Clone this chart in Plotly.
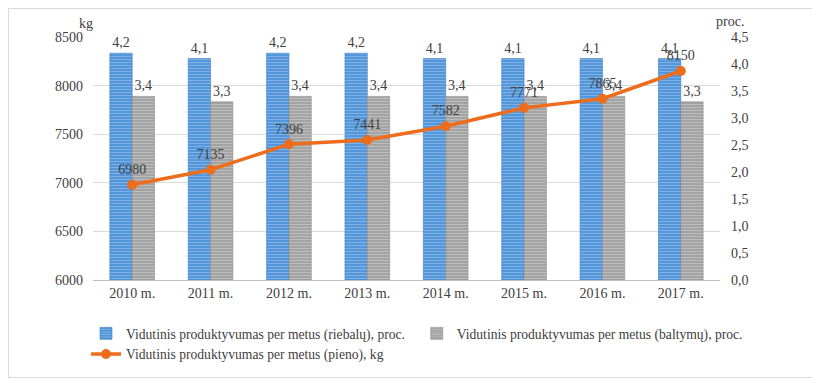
import plotly.graph_objects as go

years = ["2010 m.", "2011 m.", "2012 m.", "2013 m.", "2014 m.", "2015 m.", "2016 m.", "2017 m."]
fat = [4.2, 4.1, 4.2, 4.2, 4.1, 4.1, 4.1, 4.1]
protein = [3.4, 3.3, 3.4, 3.4, 3.4, 3.4, 3.4, 3.3]
milk = [6980, 7135, 7396, 7441, 7582, 7771, 7865, 8150]

name_fat = "Vidutinis produktyvumas per metus (riebalų), proc."
name_prot = "Vidutinis produktyvumas per metus (baltymų), proc."
name_milk = "Vidutinis produktyvumas per metus (pieno), kg"

FONT = "Liberation Serif, Times New Roman, serif"
TXT = "#404040"

def fmt(v):
    return f"{v:.1f}".replace(".", ",")

fig = go.Figure()
fig.add_trace(go.Bar(
    x=years, y=fat, name=name_fat, yaxis="y",
    marker=dict(color="#4a8fd8", line=dict(color="#3a7cc4", width=0.6),
                pattern=dict(shape="-", fgcolor="#b4d3f2", bgcolor="#4a8fd8", size=3, solidity=0.45)),
    text=[fmt(v) for v in fat], textposition="outside", cliponaxis=False,
    textfont=dict(family=FONT, size=14, color=TXT),
))
fig.add_trace(go.Bar(
    x=years, y=protein, name=name_prot, yaxis="y",
    marker=dict(color="#9c9c9c", line=dict(color="#8c8c8c", width=0.6),
                pattern=dict(shape="-", fgcolor="#dedede", bgcolor="#9c9c9c", size=3, solidity=0.45)),
    text=[fmt(v) for v in protein], textposition="outside", cliponaxis=False,
    textfont=dict(family=FONT, size=14, color=TXT),
))
fig.add_trace(go.Scatter(
    x=years, y=milk, name=name_milk, yaxis="y2", mode="lines+markers+text",
    line=dict(color="#ed6d1c", width=3.5), marker=dict(size=10, color="#ed6d1c"),
    text=[str(v) for v in milk], textposition="top center", cliponaxis=False,
    textfont=dict(family=FONT, size=14, color=TXT),
))

# the page body has an 8px default margin: work in page pixels, shifted by OFF
OFF = 8
W, H = 820 - OFF, 383 - OFF
L = 93 - OFF
R = W - (720 - OFF)
T = 37 - OFF
B = H - (280 - OFF)
pw = W - L - R
ph = H - T - B

def px_x(x):
    return (x - OFF - L) / pw

def px_y(y):
    return (H - B - (y - OFF)) / ph

fig.update_layout(
    width=W, height=H,
    margin=dict(l=L, r=R, t=T, b=B, autoexpand=False),
    paper_bgcolor="white", plot_bgcolor="white",
    separators=", ",
    font=dict(family=FONT, size=14, color=TXT),
    barmode="group", bargap=0.43, bargroupgap=0,
    xaxis=dict(showline=True, linecolor="#bfbfbf", linewidth=1, ticks="",
               tickfont=dict(family=FONT, size=14, color=TXT), showgrid=False),
    yaxis=dict(side="right", range=[0, 4.5], dtick=0.5, tickformat=".1f",
               showgrid=False, zeroline=False, ticks="", showline=False,
               ticklabelstandoff=10,
               tickfont=dict(family=FONT, size=14, color=TXT)),
    yaxis2=dict(side="left", overlaying="y", range=[6000, 8500], dtick=500,
                showgrid=True, gridcolor="#d9d9d9", gridwidth=1, zeroline=False,
                ticks="", showline=False, tickformat="d", ticklabelstandoff=9,
                tickfont=dict(family=FONT, size=14, color=TXT)),
    legend=dict(orientation="h", x=px_x(86), y=px_y(318), xanchor="left", yanchor="top",
                font=dict(family=FONT, size=13.6, color=TXT), traceorder="normal",
                itemwidth=30, tracegroupgap=0),
    annotations=[
        dict(text="kg", xref="paper", yref="paper", x=px_x(77), y=px_y(14),
             xanchor="left", yanchor="top", showarrow=False,
             font=dict(family=FONT, size=14, color=TXT)),
        dict(text="proc.", xref="paper", yref="paper", x=px_x(714), y=px_y(12),
             xanchor="left", yanchor="top", showarrow=False,
             font=dict(family=FONT, size=14, color=TXT)),
    ],
    shapes=[dict(type="rect", xref="paper", yref="paper",
                 x0=px_x(8.5), x1=px_x(815.5), y0=px_y(377.5), y1=px_y(8.5),
                 line=dict(color="#d9d9d9", width=1), layer="below")],
)

fig.write_html("out.html")
